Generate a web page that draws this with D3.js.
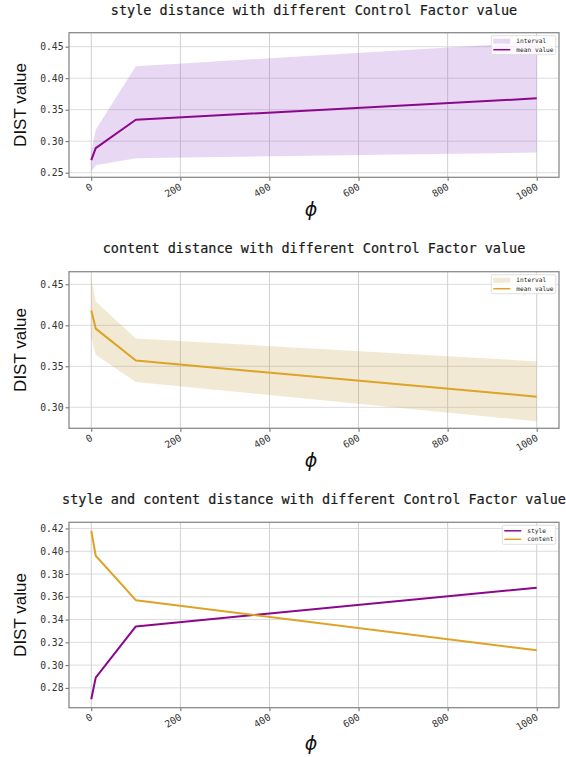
<!DOCTYPE html>
<html>
<head>
<meta charset="utf-8">
<script src="https://cdn.jsdelivr.net/npm/d3@7"></script>
<style>
  body { margin: 0; background: #fff; }
  svg { display: block; }
  .tick text { font-family: "DejaVu Sans Mono", monospace; font-size: 9.7px; fill: #333; }
</style>
</head>
<body>
<div id="chart"></div>
<script>
// control factor values (phi)
var phiValues = [0, 10, 100, 1000];

// style distance
var styleMean  = [0.270, 0.289, 0.334, 0.368];
var styleLower = [0.252, 0.262, 0.273, 0.282];
var styleUpper = [0.283, 0.318, 0.419, 0.457];

// content distance
var contentMean  = [0.418, 0.396, 0.357, 0.313];
var contentLower = [0.385, 0.364, 0.331, 0.283];
var contentUpper = [0.459, 0.429, 0.384, 0.356];

var xTicks = [0, 200, 400, 600, 800, 1000];
var styleTicks = [0.25, 0.30, 0.35, 0.40, 0.45];
var contentTicks = [0.30, 0.35, 0.40, 0.45];
var bothTicks = [0.28, 0.30, 0.32, 0.34, 0.36, 0.38, 0.40, 0.42];

var styleLimits = [0.2427, 0.4722];
var contentLimits = [0.2744, 0.4654];
var bothLimits = [0.2626, 0.4254];

var purple = "#8b078b";
var gold = "#dca326";
var purpleFill = "#9b4dca";
var goldFill = "#c49a3c";

var width = 566, height = 757;
var left = 69, right = 559;

var svg = d3.select("#chart").append("svg")
    .attr("width", width)
    .attr("height", height);

var x = d3.scaleLinear().domain([-50, 1050]).range([left, right]);

function toPoints(means) {
    return phiValues.map(function(p, i) { return {phi: p, v: means[i]}; });
}
function toBand(lower, upper) {
    return phiValues.map(function(p, i) { return {phi: p, lo: lower[i], hi: upper[i]}; });
}

function drawPanel(cfg) {
    var g = svg.append("g");
    var y = d3.scaleLinear().domain(cfg.limits).range([cfg.bottom, cfg.top]);

    // grid
    g.append("g").selectAll("line").data(cfg.yTicks).enter().append("line")
        .attr("x1", left).attr("x2", right)
        .attr("y1", function(d) { return y(d); }).attr("y2", function(d) { return y(d); })
        .attr("stroke", "#dcdcdc").attr("stroke-width", 1);
    g.append("g").selectAll("line").data(xTicks).enter().append("line")
        .attr("x1", function(d) { return x(d); }).attr("x2", function(d) { return x(d); })
        .attr("y1", cfg.top).attr("y2", cfg.bottom)
        .attr("stroke", "#d0d0d0").attr("stroke-width", 1);

    // bands
    cfg.bands.forEach(function(b) {
        var area = d3.area()
            .x(function(d) { return x(d.phi); })
            .y0(function(d) { return y(d.lo); })
            .y1(function(d) { return y(d.hi); });
        g.append("path").datum(toBand(b.lower, b.upper))
            .attr("d", area)
            .attr("fill", b.color).attr("fill-opacity", 0.22);
    });

    // mean lines
    cfg.lines.forEach(function(l) {
        var line = d3.line()
            .x(function(d) { return x(d.phi); })
            .y(function(d) { return y(d.v); });
        g.append("path").datum(toPoints(l.values))
            .attr("d", line)
            .attr("fill", "none")
            .attr("stroke", l.color).attr("stroke-width", 2)
            .attr("stroke-linejoin", "round");
    });

    // axes
    var yAxis = d3.axisLeft(y).tickValues(cfg.yTicks).tickSize(3.5).tickPadding(2)
        .tickFormat(d3.format(".2f"));
    var ya = g.append("g").attr("transform", "translate(" + left + ",0)").call(yAxis);
    ya.select(".domain").remove();
    ya.selectAll(".tick line").attr("stroke", "#666");

    var xAxis = d3.axisBottom(x).tickValues(xTicks).tickSize(3.5).tickFormat(d3.format("d"));
    var xa = g.append("g").attr("transform", "translate(0," + cfg.bottom + ")").call(xAxis);
    xa.select(".domain").remove();
    xa.selectAll(".tick line").attr("stroke", "#666");
    xa.selectAll(".tick text")
        .attr("text-anchor", "end")
        .attr("y", 0)
        .attr("dy", 0)
        .attr("transform", "translate(1.5,11.5) rotate(-30)");

    // frame
    g.append("rect")
        .attr("x", left).attr("y", cfg.top)
        .attr("width", right - left).attr("height", cfg.bottom - cfg.top)
        .attr("fill", "none").attr("stroke", "#8a8a8a").attr("stroke-width", 1.3);

    // title
    g.append("text")
        .attr("x", (left + right) / 2).attr("y", cfg.titleY)
        .attr("text-anchor", "middle")
        .style("font-family", "'DejaVu Sans Mono', monospace")
        .style("font-size", "13.5px")
        .attr("fill", "#1a1a1a")
        .attr("stroke", "#1a1a1a").attr("stroke-width", 0.2)
        .text(cfg.title);

    // axis labels
    g.append("text")
        .attr("transform", "translate(26," + ((cfg.top + cfg.bottom) / 2) + ") rotate(-90)")
        .attr("text-anchor", "middle")
        .style("font-family", "'Liberation Sans', Arial, sans-serif")
        .style("font-size", "17px")
        .attr("fill", "#111")
        .text("DIST value");
    g.append("text")
        .attr("x", 311).attr("y", cfg.phiY)
        .attr("text-anchor", "middle")
        .style("font-family", "'DejaVu Sans', sans-serif")
        .style("font-style", "italic")
        .style("font-size", "19px")
        .attr("fill", "#111")
        .text("\u03D5");

    // legend
    var lg = g.append("g").attr("transform", "translate(" + cfg.legendX + "," + (cfg.top + 3) + ")");
    lg.append("rect")
        .attr("width", 555.7 - cfg.legendX).attr("height", 19).attr("rx", 1.5)
        .attr("fill", "#fff").attr("fill-opacity", 0.8)
        .attr("stroke", "#d8d8d8").attr("stroke-width", 0.8);
    cfg.legend.forEach(function(item, i) {
        var ly = 5.5 + i * 8.5;
        if (item.type === "patch") {
            lg.append("rect").attr("x", 2).attr("y", ly - 2.5).attr("width", 17).attr("height", 5)
                .attr("fill", item.color).attr("fill-opacity", 0.22);
        } else {
            lg.append("line").attr("x1", 2).attr("x2", 19).attr("y1", ly).attr("y2", ly)
                .attr("stroke", item.color).attr("stroke-width", 1.5);
        }
        lg.append("text").attr("x", 25).attr("y", ly).attr("dy", "0.35em")
            .style("font-family", "'DejaVu Sans Mono', monospace")
            .style("font-size", "6.2px")
            .attr("fill", "#222")
            .text(item.label);
    });
}

drawPanel({
    top: 32.7, bottom: 177.3, limits: styleLimits, yTicks: styleTicks,
    title: "style distance with different Control Factor value", titleY: 15,
    phiY: 216,
    bands: [{lower: styleLower, upper: styleUpper, color: purpleFill}],
    lines: [{values: styleMean, color: purple}],
    legendX: 491.3,
    legend: [{type: "patch", label: "interval", color: purpleFill},
             {type: "line", label: "mean value", color: purple}]
});

drawPanel({
    top: 271.7, bottom: 428.3, limits: contentLimits, yTicks: contentTicks,
    title: "content distance with different Control Factor value", titleY: 253,
    phiY: 467,
    bands: [{lower: contentLower, upper: contentUpper, color: goldFill}],
    lines: [{values: contentMean, color: gold}],
    legendX: 491.3,
    legend: [{type: "patch", label: "interval", color: goldFill},
             {type: "line", label: "mean value", color: gold}]
});

drawPanel({
    top: 522.3, bottom: 707.7, limits: bothLimits, yTicks: bothTicks,
    title: "style and content distance with different Control Factor value", titleY: 504,
    phiY: 750,
    bands: [],
    lines: [{values: styleMean, color: purple}, {values: contentMean, color: gold}],
    legendX: 502.3,
    legend: [{type: "line", label: "style", color: purple},
             {type: "line", label: "content", color: gold}]
});
</script>
</body>
</html>
